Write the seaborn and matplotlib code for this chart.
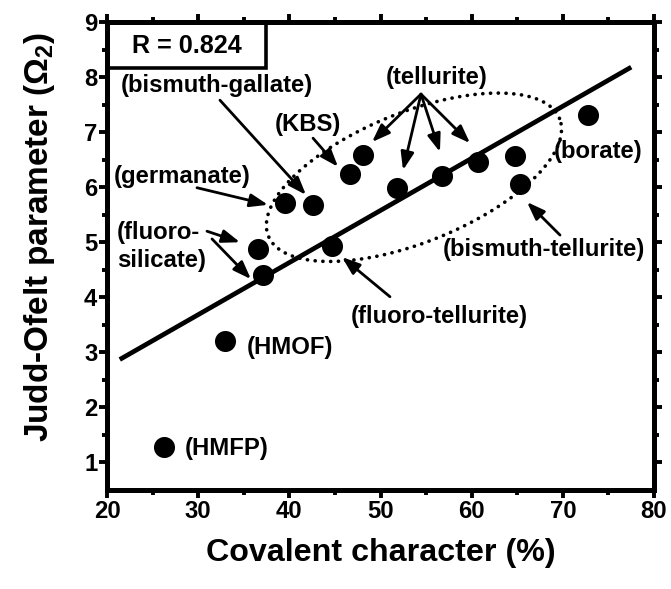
import numpy as np
import pandas as pd
import matplotlib
matplotlib.use("Agg")
import matplotlib.pyplot as plt
import seaborn as sns
from matplotlib import font_manager
from matplotlib.patches import Rectangle

# ---------------- data ----------------
covalent = [26.2, 32.9, 36.6, 37.1, 39.5, 42.55, 44.7, 46.6, 48.1, 51.8, 56.8, 60.65, 64.8, 65.3, 72.8]
omega2 = [1.29, 3.21, 4.87, 4.41, 5.72, 5.68, 4.93, 6.24, 6.58, 5.99, 6.21, 6.46, 6.57, 6.05, 7.31]

fit_x = [21.4, 77.5]
fit_y = [2.87, 8.18]
r_text = "R = 0.824"

x_ticks = [20, 30, 40, 50, 60, 70, 80]
y_ticks = [1, 2, 3, 4, 5, 6, 7, 8, 9]

# labels: text, (x, y), ha
labels = [
    ("(bismuth-gallate)", (32.07, 7.84), "center"),
    ("(KBS)", (42.05, 7.13), "center"),
    ("(tellurite)", (56.2, 8.0), "center"),
    ("(germanate)", (28.23, 6.2), "center"),
    ("(fluoro-\nsilicate)", (21.1, 4.92), "left"),
    ("(fluoro-tellurite)", (56.5, 3.66), "center"),
    ("(bismuth-tellurite)", (67.93, 4.86), "center"),
    ("(borate)", (73.86, 6.64), "center"),
    ("(HMOF)", (35.36, 3.08), "left"),
    ("(HMFP)", (28.56, 1.26), "left"),
]
# arrows: (tail, head)
arrows = [
    ((32.39, 7.58), (41.83, 5.86)),
    ((42.6, 6.89), (45.34, 6.37)),
    ((54.44, 7.69), (49.07, 6.82)),
    ((54.44, 7.69), (52.47, 6.31)),
    ((54.44, 7.69), (56.52, 6.64)),
    ((54.44, 7.69), (59.82, 6.80)),
    ((29.87, 5.99), (37.66, 5.68)),
    ((30.97, 5.20), (34.59, 5.00)),
    ((31.52, 5.06), (35.79, 4.33)),
    ((51.04, 4.01), (45.78, 4.73)),
    ((69.69, 5.13), (66.07, 5.73)),
]
ellipse_center = (53.67, 6.18)

# ---------------- style ----------------
sns.set_style("ticks")
names = {f.name for f in font_manager.fontManager.ttflist}
NARROW = "Liberation Sans Narrow" in names
hfam = "Liberation Sans Narrow" if NARROW else "Liberation Sans"
k = 1.0 if NARROW else 0.86
plt.rcParams["font.family"] = [hfam, "DejaVu Sans"]
plt.rcParams["mathtext.default"] = "regular"
for key in ["text.color", "axes.labelcolor", "xtick.color", "ytick.color", "axes.edgecolor"]:
    plt.rcParams[key] = "black"

fig = plt.figure(figsize=(6.71, 5.89), dpi=100)
ax = fig.add_axes([107 / 671, 1 - 490 / 589, 547 / 671, 468 / 589])

ax.set_xlim(20, 80)
ax.set_ylim(0.5, 9)

# dotted ellipse (defined in screen pixels around a data centre)
c = ax.transData.transform(ellipse_center)
t = np.linspace(0, 2 * np.pi, 400)
a_px, b_px, th = 157, 65, np.deg2rad(22)
dx = a_px * np.cos(t) * np.cos(th) - b_px * np.sin(t) * np.sin(th)
dy = a_px * np.cos(t) * np.sin(th) + b_px * np.sin(t) * np.cos(th)
ell = ax.transData.inverted().transform(np.column_stack([c[0] + dx, c[1] + dy]))
ax.plot(ell[:, 0], ell[:, 1], color="black", lw=2.6, linestyle=(0, (0.05, 2.1)),
        dash_capstyle="round", zorder=2)

ax.plot(fit_x, fit_y, color="black", lw=3.4, zorder=3, solid_capstyle="butt")

df = pd.DataFrame({"cov": covalent, "om": omega2})
sns.scatterplot(data=df, x="cov", y="om", s=230, color="black", edgecolor="black",
                linewidth=0, ax=ax, zorder=4, legend=False)

for txt, (x, y), ha in labels:
    ax.text(x, y, txt, ha=ha, va="center", fontsize=20 * k, fontweight="bold",
            linespacing=1.3, zorder=5)

for tail, head in arrows:
    ax.annotate("", xy=head, xytext=tail,
                arrowprops=dict(arrowstyle="-|>,head_length=0.6,head_width=0.22",
                                mutation_scale=18, lw=2.0, color="black",
                                shrinkA=0, shrinkB=0), zorder=5)

# R box
ax.add_patch(Rectangle((0, 1 - 46 / 468), 159 / 547, 46 / 468, transform=ax.transAxes,
                       fill=False, lw=2.6, edgecolor="black", zorder=6, clip_on=False))
ax.text(80 / 547, 1 - 24 / 468, r_text, transform=ax.transAxes, ha="center", va="center",
        fontsize=21 * k, fontweight="bold", zorder=7)

# axes styling
ax.set_xticks(x_ticks)
ax.set_yticks(y_ticks)
ax.set_xticks(np.arange(25, 80, 10), minor=True)
ax.set_yticks(np.arange(1.5, 9, 1.0), minor=True)
for sp in ax.spines.values():
    sp.set_linewidth(3.6)
    sp.set_visible(True)
    sp.set_color("black")
ax.tick_params(which="both", direction="out", top=True, right=True, width=2.8,
               labelsize=20 * k, color="black", labelcolor="black")
ax.tick_params(which="major", length=6, pad=1)
ax.tick_params(which="minor", length=3.5)
for lab in ax.get_xticklabels() + ax.get_yticklabels():
    lab.set_fontweight("bold")
ax.set_xlabel("")
ax.set_ylabel("")

fig.text(381 / 671, 1 - 553 / 589, "Covalent character (%)", ha="center", va="center",
         fontsize=27 * k, fontweight="bold")
fig.text(40 / 671, 1 - 237 / 589, r"Judd-Ofelt parameter ($\Omega_2$)", rotation=90,
         ha="center", va="center", fontsize=24, fontweight="bold",
         family=["Liberation Sans", "DejaVu Sans"])

fig.savefig("out.png", dpi=100)
